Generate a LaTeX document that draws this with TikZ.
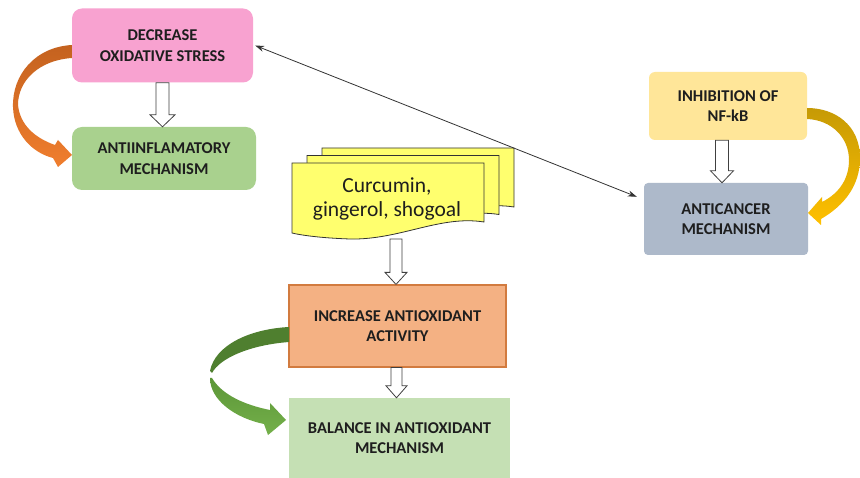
\documentclass[tikz,border=0pt]{standalone}
\usepackage{fontspec}
\setmainfont{Carlito}
\usetikzlibrary{calc,arrows.meta}
\definecolor{pinkc}{HTML}{F8A2D0}
\definecolor{greenc}{HTML}{A9D18E}
\definecolor{orangeb}{HTML}{F4B183}
\definecolor{orangeline}{HTML}{D27B3F}
\definecolor{balc}{HTML}{C5E0B4}
\definecolor{nfkbc}{HTML}{FFE699}
\definecolor{ancc}{HTML}{ADB9CA}
\definecolor{pagec}{HTML}{FFFF6E}
\definecolor{txt}{HTML}{1E1E1E}
\definecolor{orTop}{HTML}{C4621F}
\definecolor{orBot}{HTML}{F07E2E}
\definecolor{grDark}{HTML}{4F7F2F}
\definecolor{grTop}{HTML}{5C9638}
\definecolor{grBot}{HTML}{74B04A}
\definecolor{goTop}{HTML}{C69A05}
\definecolor{goBot}{HTML}{FFC000}
\tikzset{
  box/.style={inner sep=0pt, align=center, text=txt,
    font=\fontsize{16.5}{20.5}\selectfont\bfseries},
  hollowarrow/.style={draw=black!75, fill=white, line width=0.8pt},
  page/.style={draw=black!80, fill=pagec, line width=0.8pt},
  thinarrow/.style={draw=black!80, line width=0.8pt, {Stealth[length=9pt,width=6pt]}-{Stealth[length=9pt,width=6pt]}}
}
\newcommand{\harrow}[4]{%
  \draw[hollowarrow] ($(#1)+(-#3,0)$) -- ($(#1|-#2)+(-#3,-12)$) -- ($(#1|-#2)+(-#4,-12)$) -- (#1|-#2) -- ($(#1|-#2)+(#4,-12)$) -- ($(#1|-#2)+(#3,-12)$) -- ($(#1)+(#3,0)$) -- cycle;}
\begin{document}
\begin{tikzpicture}[x=1pt,y=-1pt]
\useasboundingbox (0,0) rectangle (860,478);
\fill[white] (0,0) rectangle (860,478);

% boxes
\node[box, fill=pinkc, rounded corners=10pt, minimum width=181pt, minimum height=74pt] (dos) at (162.5,45.5) {DECREASE\\OXIDATIVE STRESS};
\node[box, fill=greenc, rounded corners=10pt, minimum width=184pt, minimum height=63pt] (ainf) at (164,158.5) {ANTIINFLAMATORY\\MECHANISM};
\node[box, fill=orangeb, draw=orangeline, line width=1.2pt, minimum width=217pt, minimum height=82pt] (inc) at (397.5,326) {INCREASE ANTIOXIDANT\\ACTIVITY};
\node[box, fill=balc, minimum width=221pt, minimum height=80pt] (bal) at (399.5,438) {BALANCE IN ANTIOXIDANT\\MECHANISM};
\node[box, fill=nfkbc, rounded corners=6pt, minimum width=158pt, minimum height=68pt] (nfkb) at (728,106) {INHIBITION OF\\NF-kB};
\node[box, fill=ancc, rounded corners=4pt, minimum width=164pt, minimum height=72pt] (anc) at (726,219) {ANTICANCER\\MECHANISM};

% stacked documents
\foreach \s in {30,15,0}{
  \draw[page, shift={(\s,-\s/2)}] (292,163) -- (484,163) -- (484,222)
    .. controls (440,215) and (400,240) .. (350,239)
    .. controls (320,238) and (300,235) .. (292,233) -- cycle;
}
\node[inner sep=0pt, align=center, text=txt, font=\fontsize{21.5}{24}\selectfont] (doc) at (387,199) {Curcumin,\\gingerol, shogoal};

% hollow arrows
\harrow{dos.south}{ainf.north}{6.5}{12.5}
\coordinate (docb) at (396,239);
\harrow{docb}{inc.north}{6}{11}
\coordinate (incb) at ($(inc.south)+(-1,0)$);
\harrow{incb}{bal.north}{5.5}{10.5}
\coordinate (nfb) at ($(nfkb.south)+(-6,0)$);
\harrow{nfb}{anc.north}{6.5}{11.5}

% thin double arrow
\draw[thinarrow] ($(dos.east)+(2,0)$) -- ($(anc.north west)+(-7,14)$);

% orange curved arrow
\shade[top color=orTop, bottom color=orBot] (72,45) .. controls (35,47) and (12,75) .. (13,107)
  .. controls (14,135) and (33,153) .. (53,158) -- (58,167) -- (72,155) -- (58,140) -- (55,145)
  .. controls (35,138) and (20,125) .. (18,105)
  .. controls (18,80) and (40,60) .. (72,58) -- cycle;

% green curved arrow
\fill[grDark] (289,327) .. controls (250,329) and (215,345) .. (210,371) -- (212,373)
  .. controls (220,358) and (250,345) .. (289,342) -- cycle;
\shade[top color=grTop, bottom color=grBot] (210,378) .. controls (210,400) and (235,418) .. (264,424)
  -- (268,435) -- (286,420) -- (270,403) -- (270,410)
  .. controls (245,405) and (222,395) .. (212,378) -- cycle;

% gold curved arrow
\shade[top color=goTop, bottom color=goBot] (807,108) .. controls (835,108) and (860,125) .. (860,158)
  .. controls (860,185) and (845,205) .. (821,219) -- (821,225) -- (808,213) -- (822,197) -- (822,202)
  .. controls (840,193) and (849,178) .. (849,160)
  .. controls (849,138) and (832,120) .. (807,119) -- cycle;
\end{tikzpicture}
\end{document}
